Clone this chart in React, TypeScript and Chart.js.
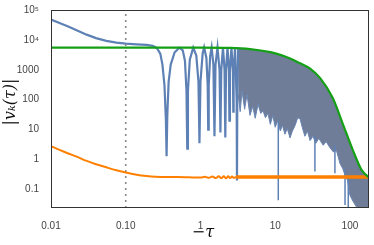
import React, { useEffect, useRef } from "react";
import { Chart, registerables } from "chart.js";

Chart.register(...registerables);

// Axis ticks
const xTicks = [0.01, 0.1, 1, 10, 100];
const xTickLabels = ["0.01", "0.10", "1", "10", "100"];
const yTicks = [0.1, 1, 10, 100, 1000, 1e4, 1e5];
const yTickLabels = ["0.1", "1", "10", "100", "1000", "10⁴", "10⁵"];
const xTitle = "−τ";
const yTitle = "|vₖ(τ)|";

// Blue |v_k(tau)| – resolved oscillation part
const blueTau = [
  0.01, 0.013, 0.017, 0.022, 0.03, 0.04, 0.055, 0.075, 0.1, 0.14, 0.19, 0.23, 0.26, 0.29, 0.31, 0.33, 0.345,
  0.352, 0.36, 0.375, 0.4, 0.45, 0.52, 0.58, 0.62, 0.65, 0.666, 0.68, 0.72, 0.8, 0.88, 0.94, 0.97, 1.0, 1.07,
  1.12, 1.2, 1.25, 1.27, 1.29, 1.35, 1.41, 1.49, 1.54, 1.59, 1.69, 1.8, 1.85, 1.9, 2.0, 2.1, 2.15, 2.2, 2.3,
  2.4, 2.44, 2.48, 2.6, 2.72, 2.75, 2.78, 2.9, 3.05, 3.08, 3.11, 3.2,
];
const blueVal = [
  48000, 37000, 28000, 21000, 15000, 11500, 9300, 8100, 7500, 7100, 6800, 6300, 5400, 3500, 1500, 300, 20,
  1.3, 30, 400, 1500, 3800, 5500, 4500, 2000, 200, 2.3, 200, 2200, 5500, 3000, 400, 3.5, 400, 3500,
  5600, 2500, 300, 10, 300, 3000, 5600, 1500, 6, 1500, 5600, 1000, 8, 1000, 5600, 1000, 5.5, 1000, 5600,
  1000, 20, 1000, 5600, 800, 40, 800, 5600, 100, 0.2, 100, 5600,
];

// Green envelope
const greenTau = [0.01, 1, 2.5, 4.6, 8.6, 12, 15.8, 21.5, 29.3, 40, 59, 80, 110, 143, 180];
const greenVal = [5500, 5500, 5400, 4950, 3900, 3100, 2400, 1650, 1100, 530, 115, 16, 2, 0.45, 0.25];

// Dense oscillation band: lower (ragged) edge, filled up to the green envelope
const bandTau = [
  3.2, 3.4, 3.6, 3.9, 4.2, 4.6, 5.0, 5.4, 5.9, 6.4, 6.9, 7.4, 8.0, 8.6, 9.3, 10, 10.8, 11.7, 12.5, 13.5,
  14.5, 15.8, 17, 18.5, 20, 21.5, 23, 25, 27, 29.3, 32, 35, 38, 40, 44, 48, 54, 60, 66, 73.6, 80, 86, 93,
  100, 110, 125, 180,
];
const bandLow = [
  150, 40, 200, 48, 150, 30, 60, 24, 70, 35, 42, 25, 35, 15, 30, 12, 20, 9, 14, 7,
  11, 5.3, 9, 14, 25, 23, 12, 6, 9, 4.3, 6, 3.5, 5, 4.3, 3, 4, 2.5, 1.8, 2, 0.74, 0.5, 0.3, 0.2,
  0.064, 0.04, 0.024, 0.024,
];

// Isolated deep spikes of the blue curve
const spikeTau = [11, 34, 63, 86, 95];
const spikeTop = [20, 6, 3, 0.5, 0.3];
const spikeLow = [0.044, 0.4, 0.35, 0.03, 0.024];

// Orange curve
const orangeTau = [
  0.01, 0.013, 0.017, 0.022, 0.03, 0.04, 0.055, 0.075, 0.1, 0.14, 0.19, 0.25, 0.35, 0.5, 0.7, 1.0, 1.15,
  1.3, 1.45, 1.6, 1.75, 1.9, 2.05, 2.2, 2.35, 2.5, 2.65, 2.8, 3.0,
];
const orangeVal = [
  2.8, 2.1, 1.6, 1.25, 0.9, 0.7, 0.55, 0.44, 0.37, 0.31, 0.28, 0.265, 0.26, 0.26, 0.255, 0.25, 0.265,
  0.245, 0.27, 0.24, 0.275, 0.24, 0.275, 0.235, 0.275, 0.24, 0.27, 0.245, 0.26,
];
const orangeDenseTau = [3.0, 180];
const orangeDenseVal = [0.26, 0.26];

const markerTau = 0.1;
const yMin = 0.024;
const yMax = 1e5;

const pts = (xs: number[], ys: number[]) => xs.map((x, i) => ({ x, y: ys[i] }));

const titleFont = "italic 16px 'DejaVu Serif', 'Liberation Serif', serif";

const framePlugin = {
  id: "frame",
  afterDatasetsDraw(chart: any) {
    const { ctx, chartArea } = chart;
    ctx.save();
    ctx.strokeStyle = "#333";
    ctx.lineWidth = 1;
    ctx.strokeRect(
      Math.round(chartArea.left) + 0.5,
      Math.round(chartArea.top) + 0.5,
      Math.round(chartArea.right - chartArea.left) - 1,
      Math.round(chartArea.bottom - chartArea.top) - 1
    );
    ctx.restore();
  },
  afterDraw(chart: any) {
    const { ctx, chartArea } = chart;
    ctx.save();
    ctx.fillStyle = "#111";
    ctx.font = titleFont;
    ctx.textAlign = "center";
    ctx.textBaseline = "middle";
    // x title, slightly left of the plot centre as in the reference
    ctx.fillText(xTitle, (chartArea.left + chartArea.right) / 2 - 7, 233);
    // y title, rotated
    ctx.translate(11, (chartArea.top + chartArea.bottom) / 2 - 7);
    ctx.rotate(-Math.PI / 2);
    ctx.fillText(yTitle, 0, 0);
    ctx.restore();
  },
};

const labelFor = (ticks: number[], labels: string[]) => (v: any) => {
  const n = Number(v);
  for (let i = 0; i < ticks.length; i++) {
    if (Math.abs(Math.log10(n) - Math.log10(ticks[i])) < 1e-6) return labels[i];
  }
  return "";
};

export default function App() {
  const ref = useRef<HTMLCanvasElement>(null);
  useEffect(() => {
    if (!ref.current) return;
    const spikeData: any[] = [];
    spikeTau.forEach((t, i) => {
      spikeData.push({ x: t, y: spikeTop[i] });
      spikeData.push({ x: t, y: spikeLow[i] });
      spikeData.push({ x: t, y: null });
    });
    const tickFont = { family: "'Liberation Sans', Arial, sans-serif", size: 10 };
    const chart = new Chart(ref.current, {
      type: "line",
      data: {
        datasets: [
          {
            data: pts(greenTau, greenVal),
            borderColor: "#14A014",
            borderWidth: 2.2,
            cubicInterpolationMode: "monotone",
            pointRadius: 0,
            fill: false,
            order: 0,
          } as any,
          {
            data: pts(bandTau, bandLow),
            borderColor: "#6784b3",
            borderWidth: 1,
            backgroundColor: "rgb(112,125,152)",
            pointRadius: 0,
            fill: 0,
            order: 5,
          },
          {
            data: pts(blueTau, blueVal),
            borderColor: "#5E81B5",
            borderWidth: 2.2,
            pointRadius: 0,
            fill: false,
            order: 4,
          },
          {
            data: spikeData,
            borderColor: "#5E81B5",
            borderWidth: 1.5,
            pointRadius: 0,
            spanGaps: false,
            fill: false,
            order: 4,
          },
          {
            data: pts(orangeTau, orangeVal),
            borderColor: "#FF8000",
            borderWidth: 2,
            cubicInterpolationMode: "monotone",
            pointRadius: 0,
            fill: false,
            order: 2,
          } as any,
          {
            data: pts(orangeDenseTau, orangeDenseVal),
            borderColor: "#FF8000",
            borderWidth: 3.5,
            pointRadius: 0,
            fill: false,
            order: 2,
          },
          {
            data: [
              { x: markerTau, y: yMin },
              { x: markerTau, y: yMax },
            ],
            borderColor: "#888",
            borderWidth: 1.6,
            borderDash: [2, 4],
            pointRadius: 0,
            fill: false,
            order: 3,
          },
        ],
      },
      options: {
        animation: false,
        responsive: false,
        maintainAspectRatio: false,
        devicePixelRatio: 1,
        layout: { padding: { top: 7, right: 5, left: 0, bottom: 0 } },
        plugins: {
          legend: { display: false },
          tooltip: { enabled: false },
        },
        elements: { point: { radius: 0 }, line: { tension: 0 } },
        scales: {
          x: {
            type: "logarithmic",
            min: 0.01,
            max: 180,
            grid: { display: false },
            border: { display: false },
            afterBuildTicks: (s: any) => {
              s.ticks = xTicks.map((v) => ({ value: v }));
            },
            afterFit: (s: any) => {
              s.height = 37;
            },
            ticks: {
              autoSkip: false,
              maxRotation: 0,
              padding: 4,
              color: "#444",
              font: tickFont,
              callback: labelFor(xTicks, xTickLabels),
            },
          } as any,
          y: {
            type: "logarithmic",
            min: yMin,
            max: yMax,
            grid: { display: false },
            border: { display: false },
            afterBuildTicks: (s: any) => {
              s.ticks = yTicks.map((v) => ({ value: v }));
            },
            afterFit: (s: any) => {
              s.width = 51;
            },
            ticks: {
              autoSkip: false,
              padding: 4,
              color: "#444",
              font: tickFont,
              callback: labelFor(yTicks, yTickLabels),
            },
          } as any,
        },
      },
      plugins: [framePlugin],
    });
    return () => chart.destroy();
  }, []);
  return (
    <div style={{ position: "absolute", left: 0, top: 0, width: 374, height: 245, background: "#fff" }}>
      <canvas ref={ref} width={374} height={245} style={{ width: 374, height: 245, display: "block" }} />
    </div>
  );
}
